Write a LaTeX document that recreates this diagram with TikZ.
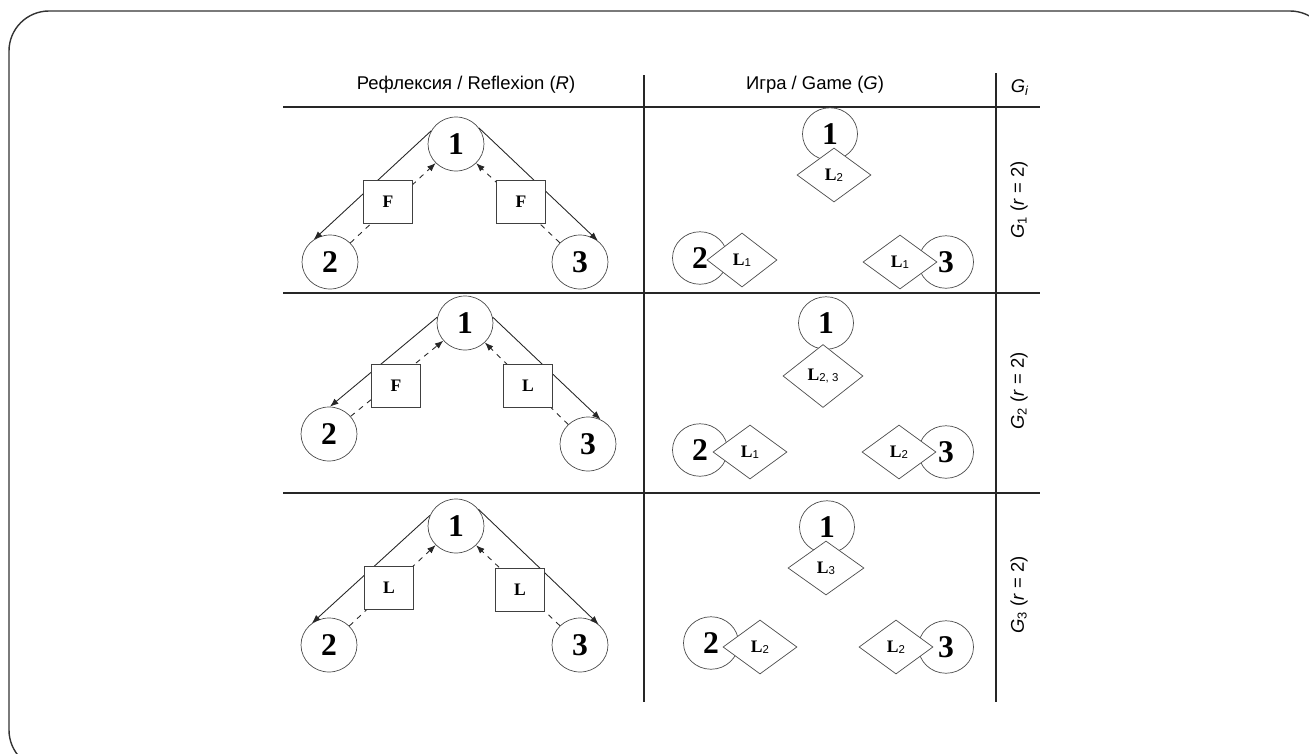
\documentclass[tikz,border=0pt]{standalone}
\usepackage{fontspec}
\setmainfont{Liberation Serif}
\setsansfont{Liberation Sans}
\usetikzlibrary{shapes.geometric, arrows.meta}

% bold L with a small sans index
\newcommand{\Lidx}[1]{\textbf{L}\raisebox{-0.8pt}{\fontsize{6.5}{7}\selectfont\sffamily #1}}

\begin{document}
\begin{tikzpicture}[x=0.02cm, y=-0.02cm,
    agent/.style={ellipse, draw=black!70, minimum width=1.12cm, minimum height=1.08cm,
      inner sep=0pt, font=\fontsize{18}{18}\selectfont\bfseries},
    ring/.style={ellipse, draw=black!70, minimum width=1.1cm, minimum height=1.05cm, inner sep=0pt},
    digit/.style={inner sep=0pt, font=\fontsize{18}{18}\selectfont\bfseries},
    filter/.style={rectangle, draw=black!75, fill=white, minimum width=0.98cm,
      minimum height=0.85cm, font=\fontsize{10}{12}\selectfont\bfseries},
    leader/.style={diamond, draw=black!70, fill=white, minimum width=1.48cm,
      minimum height=1.08cm, inner sep=0pt, font=\fontsize{10}{12}\selectfont},
    link/.style={black!85, line width=0.5pt, -{Latex[length=1.7mm,width=1.3mm]}},
    back/.style={link, dashed},
    grid/.style={black!85, line width=0.6pt},
    head/.style={font=\sffamily\fontsize{10.5}{12}\selectfont}
  ]
  \useasboundingbox (0,0) rectangle (1309,754);
  \clip (0,0) rectangle (1309,754);
  \draw[black!80, line width=0.8pt, rounded corners=0.8cm] (9,11) rectangle (1330,770);

  % table
  \draw[grid] (283,107) -- (1040,107);
  \draw[grid] (283,293) -- (1040,293);
  \draw[grid] (283,493) -- (1040,493);
  \draw[grid] (644,75) -- (644,702);
  \draw[grid] (996,73) -- (996,702);
  \node[head] (hR) at (466,85) {Рефлексия / Reflexion (\textit{R})};
  \node[head] (hG) at (815,85) {Игра / Game (\textit{G})};
  \node[head] (hGi) at (1020,88) {\textit{G}\textsubscript{\textit{i}}};
  \node[head, rotate=90] (lG1) at (1019,200) {\textit{G}\textsubscript{1} (\textit{r} = 2)};
  \node[head, rotate=90] (lG2) at (1019,391) {\textit{G}\textsubscript{2} (\textit{r} = 2)};
  \node[head, rotate=90] (lG3) at (1019,595) {\textit{G}\textsubscript{3} (\textit{r} = 2)};

  % reflexion, row 1
  \node[agent] (R1n1) at (456,144) {1};
  \node[agent] (R1n2) at (330,262) {2};
  \node[agent] (R1n3) at (580,262) {3};
  \draw[link] (R1n1.152) -- (R1n2.126);
  \draw[link] (R1n1.35) -- (R1n3.50);
  \draw[back] (R1n2) -- (R1n1);
  \draw[back] (R1n3) -- (R1n1);
  \node[filter] (R1fl) at (388,202) {F};
  \node[filter] (R1fr) at (521,202) {F};

  % reflexion, row 2
  \node[agent] (R2n1) at (465,323) {1};
  \node[agent] (R2n2) at (329,434) {2};
  \node[agent] (R2n3) at (588,444) {3};
  \draw[link] (R2n1.168) -- (R2n2.88);
  \draw[link] (R2n1.12) -- (R2n3.63);
  \draw[back] (R2n2) -- (R2n1);
  \draw[back] (R2n3) -- (R2n1);
  \node[filter] (R2fl) at (396,386) {F};
  \node[filter] (R2fr) at (528,386) {L};

  % reflexion, row 3
  \node[agent] (R3n1) at (456,526) {1};
  \node[agent] (R3n2) at (329,645) {2};
  \node[agent] (R3n3) at (580,645) {3};
  \draw[link] (R3n1.158) -- (R3n2.128);
  \draw[link] (R3n1.37) -- (R3n3.48);
  \draw[back] (R3n2) -- (R3n1);
  \draw[back] (R3n3) -- (R3n1);
  \node[filter] (R3fl) at (389,588) {L};
  \node[filter] (R3fr) at (520,590) {L};

  % game, row 1
  \node[ring] (G1n1) at (830,134) {};
  \node[ring] (G1n2) at (700,258) {};
  \node[ring] (G1n3) at (946,262) {};
  \node[leader] (G1d1) at (834,175) {\Lidx{2}};
  \node[leader, minimum width=1.4cm] (G1d2) at (742,260) {\Lidx{1}};
  \node[leader] (G1d3) at (900,262) {\Lidx{1}};
  \node[digit] (G1t1) at (G1n1) {1};
  \node[digit] (G1t2) at (G1n2) {2};
  \node[digit] (G1t3) at (G1n3) {3};

  % game, row 2
  \node[ring] (G2n1) at (826,323) {};
  \node[ring] (G2n2) at (700,450) {};
  \node[ring] (G2n3) at (946,452) {};
  \node[leader, minimum width=1.6cm, minimum height=1.26cm] (G2d1) at (823,376) {\Lidx{2, 3}};
  \node[leader] (G2d2) at (750,452) {\Lidx{1}};
  \node[leader] (G2d3) at (899,452) {\Lidx{2}};
  \node[digit] (G2t1) at (G2n1) {1};
  \node[digit] (G2t2) at (G2n2) {2};
  \node[digit] (G2t3) at (G2n3) {3};

  % game, row 3
  \node[ring] (G3n1) at (827,527) {};
  \node[ring] (G3n2) at (711,643) {};
  \node[ring] (G3n3) at (946,647) {};
  \node[leader, minimum width=1.52cm] (G3d1) at (826,568) {\Lidx{3}};
  \node[leader] (G3d2) at (760,647) {\Lidx{2}};
  \node[leader] (G3d3) at (896,647) {\Lidx{2}};
  \node[digit] (G3t1) at (G3n1) {1};
  \node[digit] (G3t2) at (G3n2) {2};
  \node[digit] (G3t3) at (G3n3) {3};
\end{tikzpicture}
\end{document}
